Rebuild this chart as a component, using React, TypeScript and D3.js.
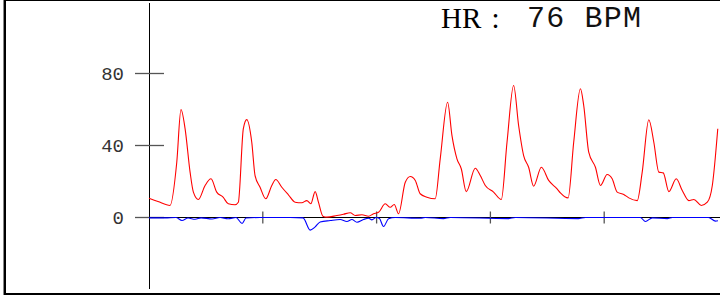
import React, { useEffect, useRef } from 'react';
import * as d3 from 'd3';

// time in seconds
const ppgTime = [0, 0.079, 0.185, 0.244, 0.281, 0.317, 0.361, 0.39, 0.434, 0.493, 0.545, 0.595, 0.651, 0.697, 0.756, 0.785,
	0.829, 0.859, 0.903, 0.932, 0.976, 1.026, 1.079, 1.114, 1.167, 1.225, 1.284, 1.343, 1.387, 1.422, 1.46, 1.489,
	1.528, 1.563, 1.651, 1.709, 1.768, 1.812, 1.871, 1.929, 1.973, 2.017, 2.076, 2.12, 2.155, 2.193, 2.252, 2.296,
	2.34, 2.383, 2.442, 2.515, 2.559, 2.624, 2.662, 2.706, 2.744, 2.788, 2.867, 2.911, 2.955, 3.028, 3.096, 3.146,
	3.204, 3.248, 3.292, 3.336, 3.38, 3.448, 3.512, 3.586, 3.615, 3.683, 3.732, 3.791, 3.82, 3.864, 3.923, 3.967,
	4.026, 4.07, 4.114, 4.172, 4.216, 4.29, 4.334, 4.392, 4.436, 4.48, 4.519, 4.568, 4.633, 4.686, 4.744, 4.788,
	4.853, 4.906, 4.95, 4.998];
const ppgValue = [10.7, 8.9, 6.7, 30.7, 60, 49.4, 25.2, 14.1, 10, 17.8, 21.5, 14.1, 11.3, 7.6, 7.1, 8.5,
	49.4, 54.4, 41.8, 23.3, 16.8, 10.4, 17.8, 21.1, 16.8, 12.6, 8.5, 8.2, 9.4, 7.6, 14.4, 8.5,
	0.7, 0.2, 1.1, 1.8, 2.6, 1.1, 1.5, 0.7, 2.1, 2.9, 7.6, 5.7, 7.2, 2.1, 19.6, 22.8,
	20.6, 13.2, 11.3, 10.4, 32.6, 64, 45.6, 32.6, 27.1, 14.4, 27.4, 23.3, 17.8, 14.1, 10, 41.8,
	73.3, 51.1, 34.4, 27.9, 17.4, 27.9, 20.6, 15.9, 13.7, 10.9, 41.8, 71.5, 62.2, 36.3, 27.9, 17.8,
	23.9, 21.5, 14.1, 12.8, 10.9, 9.4, 25.2, 54.3, 41.8, 25.2, 24.8, 14.4, 21.5, 15, 9.4, 10,
	6.7, 8.5, 17.8, 49.3];

const diffTime = [0, 0.141, 0.237, 0.29, 0.343, 0.405, 0.457, 0.554, 0.624, 0.695, 0.765, 0.818, 0.853, 0.976, 1.24,
	1.354, 1.416, 1.46, 1.504, 1.592, 1.68, 1.739, 1.783, 1.827, 1.885, 1.929, 1.959, 1.996, 2.025, 2.061, 2.105,
	2.164, 2.383, 2.427, 2.588, 2.647, 3.157, 3.219, 3.773, 3.835, 4.318, 4.362, 4.423, 4.555, 4.599, 4.916, 4.978, 5.0];
const diffValue = [-0.2, -0.2, 0, -1.7, -0.3, -1, -0.2, -0.8, 0, -0.7, 0, -3.3, -0.3, 0, 0,
	-0.2, -7, -5.2, -2.5, -1.7, -1.1, -2.2, -1.1, -2.6, -1.1, -0.4, -1.3, 0, -0.6, -5, -0.7,
	0, -0.4, 0, -0.6, 0, -0.6, 0, -0.6, 0, 0, -2.2, -0.2, -0.6, 0, 0, -2, -1.8];

const yTicks = [0, 40, 80];
const xTicks = [1, 2, 3, 4];
const bpm = 76;

const width = 720;
const height = 296;

export default function App() {
	const ref = useRef<SVGSVGElement>(null);
	useEffect(() => drawChart());

	function drawChart() {
		const svg = d3.select(ref.current);
		svg.selectAll("*").remove();

		var x = d3.scaleLinear().domain([0, 5]).range([149, 718]);
		var y = d3.scaleLinear().domain([-40, 120]).range([289.5, 1.5]);

		// frame
		svg.append("rect").attr("x", 3).attr("y", 0).attr("width", 1).attr("height", 295).attr("fill", "#888");
		svg.append("rect").attr("x", 4).attr("y", 0).attr("width", 2).attr("height", 295).attr("fill", "#000");
		svg.append("rect").attr("x", 4).attr("y", 0).attr("width", 716).attr("height", 1).attr("fill", "#000");
		svg.append("rect").attr("x", 4).attr("y", 293).attr("width", 716).attr("height", 2).attr("fill", "#000");

		// y axis
		svg.append("line")
			.attr("x1", 149.5).attr("x2", 149.5)
			.attr("y1", 3).attr("y2", 289)
			.attr("stroke", "#000").attr("stroke-width", 1);
		svg.selectAll(".ytick")
			.data(yTicks)
			.enter()
			.append("line")
			.attr("x1", 135).attr("x2", 164)
			.attr("y1", (d) => y(d)).attr("y2", (d) => y(d))
			.attr("stroke", "#555").attr("stroke-width", 1.3);
		svg.selectAll(".ylabel")
			.data(yTicks)
			.enter()
			.append("text")
			.text((d) => d)
			.attr("x", 124)
			.attr("y", (d) => y(d) + 6)
			.attr("text-anchor", "end")
			.attr("font-family", "Liberation Mono, monospace")
			.attr("font-size", "19px")
			.attr("fill", "#333");

		// x axis
		svg.append("line")
			.attr("x1", 149).attr("x2", 720)
			.attr("y1", y(0)).attr("y2", y(0))
			.attr("stroke", "#000").attr("stroke-width", 1);
		svg.selectAll(".xtick")
			.data(xTicks)
			.enter()
			.append("line")
			.attr("x1", (d) => x(d)).attr("x2", (d) => x(d))
			.attr("y1", y(0) - 6).attr("y2", y(0) + 6)
			.attr("stroke", "#555").attr("stroke-width", 1.3);

		var ppgLine = d3.line<number>()
			.x((d, i) => x(ppgTime[i]))
			.y((d) => y(d))
			.curve(d3.curveMonotoneX);
		svg.append("path")
			.attr("d", ppgLine(ppgValue))
			.attr("fill", "none")
			.attr("stroke", "red")
			.attr("stroke-width", 1.1);

		var diffLine = d3.line<number>()
			.x((d, i) => x(diffTime[i]))
			.y((d) => y(d))
			.curve(d3.curveMonotoneX);
		svg.append("path")
			.attr("d", diffLine(diffValue))
			.attr("fill", "none")
			.attr("stroke", "blue")
			.attr("stroke-width", 1.1);

		// heart rate readout
		svg.append("text")
			.text("HR :")
			.attr("x", 441)
			.attr("y", 28)
			.attr("font-family", "Liberation Serif, serif")
			.attr("font-size", "29px")
			.attr("word-spacing", "3px")
			.attr("fill", "#000");
		svg.append("text")
			.text(bpm + " BPM")
			.attr("x", 527)
			.attr("y", 27)
			.attr("font-family", "Liberation Mono, monospace")
			.attr("font-size", "30px")
			.attr("letter-spacing", "1.2px")
			.attr("fill", "#111");
	}

	return <svg ref={ref} width={width} height={height} style={{ position: 'absolute', left: 0, top: 0 }}></svg>;
}
